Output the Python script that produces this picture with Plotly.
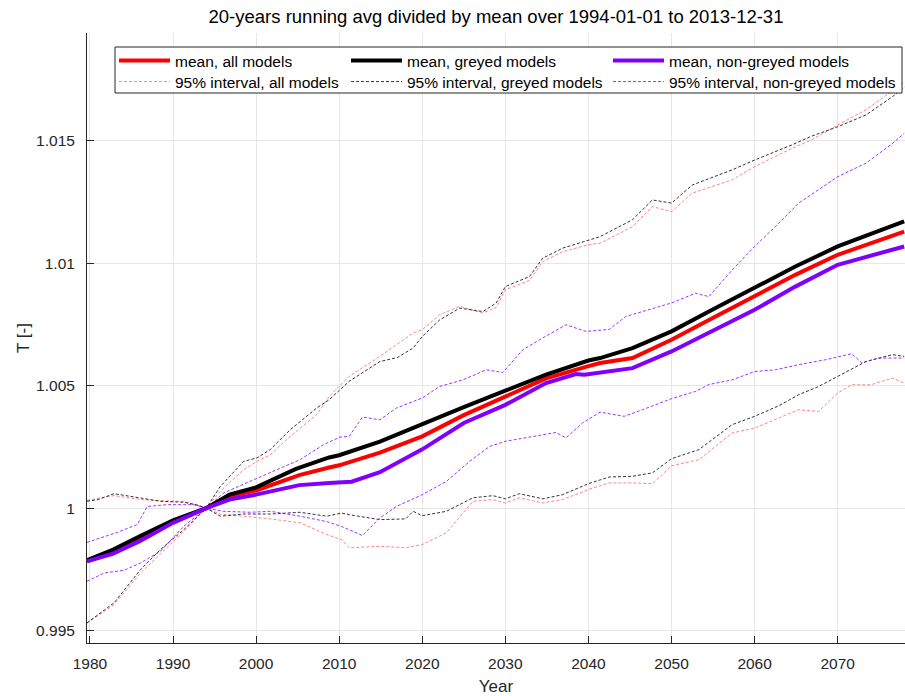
import plotly.graph_objects as go

# ---- 20-year running averages, normalised by the 1994-2013 mean ----
# mean over all models
yr_mean_all = [1979.65, 1982.8, 1986.0, 1990.0, 1994.0, 1996.8, 2000.0, 2005.2, 2008.8, 2010.0,
               2014.9, 2020.0, 2025.0, 2030.0, 2034.9, 2040.0, 2041.4, 2045.3, 2050.0, 2054.9,
               2060.0, 2064.9, 2070.0, 2078.0]
mean_all = [0.99783, 0.99824, 0.99878, 0.99944, 1.00000, 1.00048, 1.00072, 1.00135, 1.00166, 1.00175,
            1.00227, 1.00293, 1.00380, 1.00455, 1.00530, 1.00580, 1.00593, 1.00613, 1.00688, 1.00776,
            1.00864, 1.00953, 1.01035, 1.01130]

# mean over greyed models
yr_mean_grey = [1979.65, 1982.8, 1986.0, 1990.0, 1994.0, 1996.8, 2000.0, 2004.8, 2008.8, 2010.0,
                2014.9, 2020.0, 2025.0, 2030.0, 2034.9, 2040.0, 2041.4, 2045.3, 2050.0, 2054.9,
                2060.0, 2064.9, 2070.0, 2078.0]
mean_grey = [0.99787, 0.99831, 0.99885, 0.99950, 1.00000, 1.00055, 1.00085, 1.00160, 1.00207, 1.00216,
             1.00272, 1.00345, 1.00413, 1.00480, 1.00545, 1.00603, 1.00613, 1.00654, 1.00722, 1.00810,
             1.00899, 1.00987, 1.01069, 1.01171]

# mean over non-greyed models
yr_mean_nongrey = [1979.65, 1982.8, 1986.0, 1990.0, 1994.0, 1996.8, 2000.0, 2005.2, 2008.8, 2010.0,
                   2011.5, 2014.9, 2020.0, 2025.0, 2030.0, 2034.9, 2038.5, 2039.5, 2041.4, 2045.3,
                   2050.0, 2054.9, 2060.0, 2064.9, 2070.0, 2078.0]
mean_nongrey = [0.99783, 0.99814, 0.99865, 0.99940, 1.00000, 1.00035, 1.00055, 1.00094, 1.00103, 1.00105,
                1.00108, 1.00147, 1.00240, 1.00348, 1.00422, 1.00511, 1.00548, 1.00545, 1.00555, 1.00572,
                1.00640, 1.00722, 1.00810, 1.00905, 1.00994, 1.01069]

# 95% interval, all models
yr_ci_all_up = [1979.65, 1982.9, 1986.1, 1988.5, 1991.3, 1994.0, 1995.7, 1998.5, 2000.1, 2001.7,
                2004.1, 2007.3, 2008.8, 2011.2, 2014.9, 2018.9, 2020.0, 2022.1, 2024.5, 2027.3,
                2028.9, 2030.0, 2032.9, 2034.5, 2036.9, 2040.0, 2041.4, 2045.3, 2047.7, 2050.0,
                2052.5, 2057.3, 2060.0, 2064.5, 2066.9, 2070.0, 2073.4, 2076.6, 2078.0]
ci_all_up = [1.00032, 1.00051, 1.00035, 1.00030, 1.00028, 1.00000, 1.00069, 1.00157, 1.00191, 1.00218,
             1.00293, 1.00382, 1.00456, 1.00538, 1.00620, 1.00715, 1.00729, 1.00790, 1.00824, 1.00797,
             1.00820, 1.00892, 1.00930, 1.01007, 1.01048, 1.01076, 1.01082, 1.01150, 1.01232, 1.01211,
             1.01287, 1.01341, 1.01395, 1.01470, 1.01505, 1.01565, 1.01627, 1.01708, 1.01740]
yr_ci_all_lo = [1979.65, 1982.9, 1986.1, 1988.5, 1991.3, 1994.0, 1995.7, 1998.5, 2001.7, 2005.3,
                2008.5, 2010.3, 2011.2, 2014.9, 2018.0, 2020.0, 2022.9, 2026.1, 2028.5, 2030.0,
                2031.7, 2034.5, 2036.9, 2040.0, 2042.5, 2045.3, 2047.7, 2050.0, 2053.3, 2057.3,
                2060.0, 2062.9, 2065.3, 2067.7, 2070.0, 2071.7, 2074.0, 2076.6, 2078.0]
ci_all_lo = [0.99531, 0.99605, 0.99735, 0.99815, 0.99905, 1.00000, 0.99975, 0.99967, 0.99956, 0.99940,
             0.99892, 0.99871, 0.99838, 0.99844, 0.99838, 0.99851, 0.99899, 1.00028, 1.00035, 1.00021,
             1.00042, 1.00021, 1.00035, 1.00076, 1.00103, 1.00103, 1.00100, 1.00173, 1.00198, 1.00307,
             1.00327, 1.00368, 1.00402, 1.00395, 1.00470, 1.00504, 1.00504, 1.00531, 1.00511]

# 95% interval, greyed models
yr_ci_grey_up = [1979.65, 1981.0, 1982.9, 1984.5, 1986.1, 1988.5, 1991.3, 1993.0, 1994.0, 1995.7,
                 1998.5, 2000.1, 2001.7, 2004.1, 2007.3, 2008.8, 2011.2, 2014.9, 2017.0, 2018.9,
                 2020.0, 2022.1, 2024.5, 2027.3, 2028.9, 2030.0, 2032.9, 2034.5, 2036.9, 2040.0,
                 2041.4, 2045.3, 2047.7, 2050.0, 2052.5, 2057.3, 2060.0, 2064.5, 2066.9, 2070.0,
                 2073.4, 2076.6, 2078.0]
ci_grey_up = [1.00028, 1.00035, 1.00059, 1.00050, 1.00042, 1.00028, 1.00024, 1.00012, 1.00000, 1.00089,
              1.00191, 1.00205, 1.00239, 1.00320, 1.00409, 1.00443, 1.00518, 1.00599, 1.00615, 1.00654,
              1.00701, 1.00769, 1.00817, 1.00803, 1.00838, 1.00905, 1.00946, 1.01021, 1.01062, 1.01096,
              1.01109, 1.01178, 1.01259, 1.01246, 1.01320, 1.01382, 1.01422, 1.01484, 1.01520, 1.01558,
              1.01606, 1.01681, 1.01720]
yr_ci_grey_lo = [1979.65, 1982.9, 1986.1, 1988.5, 1991.3, 1994.0, 1995.7, 1998.5, 2001.7, 2005.3,
                 2008.5, 2010.3, 2011.2, 2014.9, 2018.0, 2018.9, 2020.0, 2022.9, 2026.1, 2028.5,
                 2030.0, 2031.7, 2034.5, 2036.9, 2040.0, 2042.5, 2045.3, 2047.7, 2050.0, 2053.3,
                 2057.3, 2060.0, 2062.9, 2065.3, 2067.7, 2070.0, 2073.4, 2076.6, 2078.0]
ci_grey_lo = [0.99531, 0.99613, 0.99749, 0.99831, 0.99912, 1.00000, 0.99967, 0.99976, 0.99976, 0.99983,
              0.99967, 0.99980, 0.99973, 0.99953, 0.99956, 0.99987, 0.99969, 0.99987, 1.00042, 1.00051,
              1.00038, 1.00059, 1.00038, 1.00055, 1.00100, 1.00127, 1.00130, 1.00144, 1.00202, 1.00239,
              1.00341, 1.00375, 1.00418, 1.00463, 1.00497, 1.00538, 1.00599, 1.00627, 1.00620]

# 95% interval, non-greyed models
yr_ci_ng_up = [1979.65, 1983.3, 1985.7, 1986.9, 1989.3, 1992.5, 1994.0, 1996.1, 1999.3, 2002.5,
               2005.3, 2008.1, 2010.1, 2011.2, 2012.8, 2014.9, 2016.9, 2020.0, 2022.1, 2024.9,
               2027.7, 2029.7, 2032.1, 2034.5, 2037.3, 2039.7, 2042.5, 2044.5, 2050.0, 2052.9,
               2054.5, 2057.3, 2060.0, 2062.5, 2065.3, 2070.0, 2073.4, 2076.6, 2078.0]
ci_ng_up = [0.99860, 0.99901, 0.99933, 1.00007, 1.00014, 1.00014, 1.00000, 1.00062, 1.00110, 1.00157,
            1.00198, 1.00259, 1.00290, 1.00293, 1.00372, 1.00361, 1.00409, 1.00450, 1.00497, 1.00524,
            1.00565, 1.00554, 1.00647, 1.00695, 1.00749, 1.00722, 1.00730, 1.00783, 1.00838, 1.00878,
            1.00864, 1.00973, 1.01069, 1.01150, 1.01246, 1.01354, 1.01409, 1.01490, 1.01531]
yr_ci_ng_lo = [1979.65, 1981.7, 1984.1, 1986.1, 1988.5, 1991.3, 1994.0, 1996.1, 1999.3, 2001.7,
               2005.3, 2008.5, 2010.3, 2011.2, 2012.8, 2014.9, 2016.9, 2020.0, 2022.9, 2025.7,
               2028.1, 2030.0, 2032.9, 2036.1, 2037.3, 2039.3, 2041.4, 2044.3, 2046.5, 2050.0,
               2052.9, 2054.5, 2057.3, 2060.0, 2062.5, 2065.3, 2068.5, 2071.7, 2072.9, 2074.9, 2078.0]
ci_ng_lo = [0.99701, 0.99735, 0.99746, 0.99776, 0.99824, 0.99926, 1.00000, 0.99987, 0.99983, 0.99987,
            0.99967, 0.99945, 0.99925, 0.99912, 0.99888, 0.99960, 1.00007, 1.00055, 1.00109, 1.00191,
            1.00252, 1.00273, 1.00291, 1.00309, 1.00287, 1.00348, 1.00392, 1.00375, 1.00402, 1.00447,
            1.00477, 1.00505, 1.00524, 1.00558, 1.00565, 1.00586, 1.00606, 1.00631, 1.00593, 1.00613,
            1.00613]

x_ticks = [1980, 1990, 2000, 2010, 2020, 2030, 2040, 2050, 2060, 2070]
y_ticks = [0.995, 1.0, 1.005, 1.01, 1.015]
y_tick_text = ["0.995", "1", "1.005", "1.01", "1.015"]

RED, BLACK, PURPLE = "#ff0000", "#000000", "#8000ff"
RED_CI, BLACK_CI, PURPLE_CI = "rgba(255,90,90,0.75)", "rgba(0,0,0,0.8)", "rgba(128,0,255,0.8)"
DASH = "3px,2px"

# plot-area geometry in pixels (for placing the legend grid)
W, H = 905, 696
ML, MR, MT, MB = 87, 0, 33, 53
PW, PH = W - ML - MR, H - MT - MB


def px_x(x):
    return (x - ML) / PW


def px_y(y):
    return (H - MB - y) / PH


# legend grid: three columns, two rows, each entry in its own legend
col_x = [114, 346, 608]
row_y = [61, 82]
legend_slots = {}
for i in range(6):
    key = "legend" if i == 0 else f"legend{i + 1}"
    legend_slots[key] = dict(x=px_x(col_x[i % 3]), y=px_y(row_y[i // 3]),
                             xanchor="left", yanchor="middle", orientation="v",
                             bgcolor="rgba(0,0,0,0)", borderwidth=0, itemwidth=51,
                             font=dict(size=15.5, color="#000000"))
slot_keys = list(legend_slots)

fig = go.Figure()


def add_interval(x_up, y_up, x_lo, y_lo, color, name, slot):
    fig.add_trace(go.Scatter(x=x_up, y=y_up, mode="lines", name=name, legend=slot_keys[slot],
                             line=dict(color=color, width=1, dash=DASH)))
    fig.add_trace(go.Scatter(x=x_lo, y=y_lo, mode="lines", name=name, showlegend=False,
                             legend=slot_keys[slot], line=dict(color=color, width=1, dash=DASH)))


add_interval(yr_ci_all_up, ci_all_up, yr_ci_all_lo, ci_all_lo, RED_CI, "95% interval, all models", 3)
add_interval(yr_ci_grey_up, ci_grey_up, yr_ci_grey_lo, ci_grey_lo, BLACK_CI, "95% interval, greyed models", 4)
add_interval(yr_ci_ng_up, ci_ng_up, yr_ci_ng_lo, ci_ng_lo, PURPLE_CI, "95% interval, non-greyed models", 5)

fig.add_trace(go.Scatter(x=yr_mean_all, y=mean_all, mode="lines", name="mean, all models",
                         legend=slot_keys[0], line=dict(color=RED, width=4)))
fig.add_trace(go.Scatter(x=yr_mean_grey, y=mean_grey, mode="lines", name="mean, greyed models",
                         legend=slot_keys[1], line=dict(color=BLACK, width=4)))
fig.add_trace(go.Scatter(x=yr_mean_nongrey, y=mean_nongrey, mode="lines", name="mean, non-greyed models",
                         legend=slot_keys[2], line=dict(color=PURPLE, width=4)))

axis_font = dict(family="Liberation Sans, Arial, sans-serif", size=15.5, color="#262626")

fig.update_layout(
    width=W, height=H,
    margin=dict(l=ML, r=MR, t=MT, b=MB),
    paper_bgcolor="white", plot_bgcolor="white",
    font=dict(family="Liberation Sans, Arial, sans-serif", color="#262626"),
    showlegend=True,
    title=dict(text="20-years running avg divided by mean over 1994-01-01 to 2013-12-31",
               x=0.5, xref="paper", xanchor="center",
               y=1 - 17 / H, yref="container", yanchor="middle",
               font=dict(size=18.5, color="#000000")),
    xaxis=dict(range=[1979.65, 2078.1], tickvals=x_ticks, ticks="inside", ticklen=7,
               tickcolor="#262626", showline=True, linecolor="#262626", linewidth=1,
               showgrid=True, gridcolor="#e6e6e6", zeroline=False, tickfont=axis_font,
               ticklabelstandoff=6,
               title=dict(text="Year", font=dict(size=17, color="#262626"), standoff=9)),
    yaxis=dict(range=[0.99449, 1.01941], tickvals=y_ticks, ticktext=y_tick_text,
               ticks="inside", ticklen=7, tickcolor="#262626", showline=True,
               linecolor="#262626", linewidth=1, showgrid=True, gridcolor="#e6e6e6",
               zeroline=False, tickfont=axis_font, ticklabelstandoff=8,
               title=dict(text="T [-]", font=dict(size=17, color="#262626"), standoff=2)),
    shapes=[dict(type="rect", xref="paper", yref="paper", layer="above",
                 x0=px_x(115), x1=px_x(902), y0=px_y(93), y1=px_y(47),
                 fillcolor="white", line=dict(color="#262626", width=1))],
    **legend_slots,
)

fig.write_html("out.html")
